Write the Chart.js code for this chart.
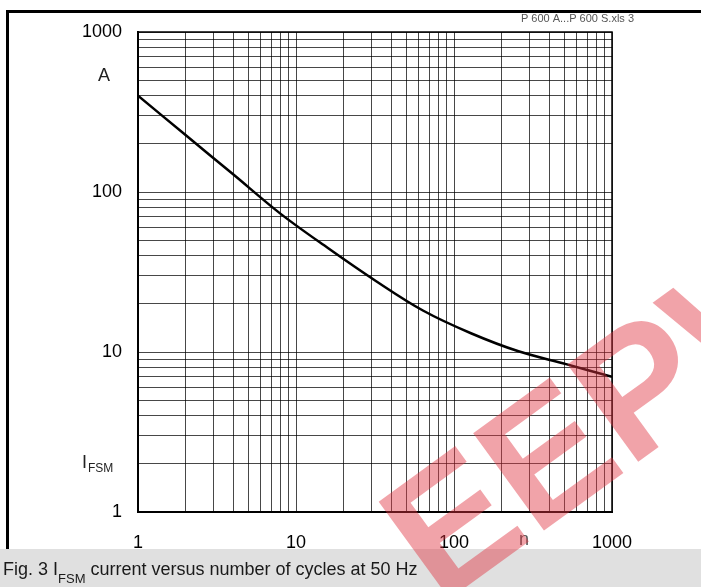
<!DOCTYPE html>
<html>
<head>
<meta charset="utf-8">
<script src="https://cdn.jsdelivr.net/npm/chart.js@4.4.1/dist/chart.umd.min.js"></script>
<style>
  body { margin: 0; background: #fff; }
  #wrap { width: 701px; height: 587px; position: relative; }
</style>
</head>
<body>
<div id="wrap"><canvas id="surgeChart"></canvas></div>
<script>
// Surge current I_FSM vs. number of cycles n (50 Hz)
const cycles = [1, 2, 4, 8, 16, 32, 64, 128, 256, 512, 1000];
const surgeCurrent = [400, 227, 129, 73, 44.5, 27.8, 18.1, 13.1, 10.1, 8.4, 7.0];

// Log grid lines and the decade labels
const xGrid = [1, 2, 3, 4, 5, 6, 7, 8, 9, 10, 20, 30, 40, 50, 60, 70, 80, 90, 100, 200, 300, 400, 500, 600, 700, 800, 900, 1000];
const yGrid = xGrid;
const xLabels = [1, 10, 100, 1000];
const yLabels = [1, 10, 100, 1000];

const FONT = '"Liberation Sans", Arial, sans-serif';

/**
 * Draw background, frame, caption, axis captions and watermark
 */
const pagePlugin = {
    id: 'page',
    beforeDraw(chart) {
        const ctx = chart.ctx;
        ctx.save();
        ctx.fillStyle = '#fff';
        ctx.fillRect(0, 0, chart.width, chart.height);
        ctx.restore();
    },
    afterDatasetsDraw(chart) {
        const ctx = chart.ctx;
        const a = chart.chartArea;
        ctx.save();
        ctx.strokeStyle = '#000';
        ctx.lineWidth = 1.5;
        ctx.beginPath();
        ctx.moveTo(a.left, a.top);
        ctx.lineTo(a.right, a.top);
        ctx.lineTo(a.right, a.bottom);
        ctx.stroke();
        ctx.restore();
    },
    afterDraw(chart) {
        const ctx = chart.ctx;
        ctx.save();

        // outer frame (top and left)
        ctx.fillStyle = '#000';
        ctx.fillRect(6, 10, 695, 3);
        ctx.fillRect(6, 10, 3, 539);

        // caption bar
        ctx.fillStyle = '#e0e0e0';
        ctx.fillRect(0, 549, 701, 38);
        ctx.fillStyle = '#1a1a1a';
        ctx.textBaseline = 'alphabetic';
        ctx.textAlign = 'left';
        ctx.font = '18px ' + FONT;
        let x = 3;
        ctx.fillText('Fig. 3 I', x, 575);
        x += ctx.measureText('Fig. 3 I').width;
        ctx.font = '13px ' + FONT;
        ctx.fillText('FSM', x, 583);
        x += ctx.measureText('FSM').width;
        ctx.font = '18px ' + FONT;
        ctx.fillText(' current versus number of cycles at 50 Hz', x, 575);

        // file reference, top right
        ctx.fillStyle = '#555';
        ctx.font = '11px ' + FONT;
        ctx.textAlign = 'right';
        ctx.fillText('P 600 A...P 600 S.xls 3', 634, 22);

        // unit and quantity labels
        ctx.fillStyle = '#222';
        ctx.font = '18px ' + FONT;
        ctx.textAlign = 'center';
        ctx.textBaseline = 'middle';
        ctx.fillText('A', 104, 76);
        ctx.fillStyle = '#555';
        ctx.fillText('n', 524, 540);

        ctx.fillStyle = '#222';
        ctx.textAlign = 'left';
        ctx.textBaseline = 'alphabetic';
        ctx.fillText('I', 82, 468);
        ctx.font = '12px ' + FONT;
        ctx.fillText('FSM', 88, 472);

        // watermark
        ctx.translate(440, 606);
        ctx.rotate(-36 * Math.PI / 180);
        ctx.fillStyle = 'rgba(225, 50, 65, 0.45)';
        ctx.font = 'bold 175px ' + FONT;
        ctx.textAlign = 'left';
        ctx.textBaseline = 'alphabetic';
        ctx.fillText('EEPW', 0, 0);

        ctx.restore();
    }
};

const ctx = document.getElementById('surgeChart');

new Chart(ctx, {
    type: 'line',
    data: {
        datasets: [{
            label: 'IFSM',
            data: cycles.map((n, i) => ({ x: n, y: surgeCurrent[i] })),
            borderColor: '#000',
            borderWidth: 2.5,
            pointRadius: 0,
            tension: 0.35,
            fill: false
        }]
    },
    options: {
        responsive: true,
        maintainAspectRatio: false,
        animation: false,
        layout: {
            padding: { top: 32, right: 89, left: 0, bottom: 0 }
        },
        plugins: {
            legend: { display: false },
            tooltip: { enabled: false }
        },
        scales: {
            x: {
                type: 'logarithmic',
                min: 1,
                max: 1000,
                afterBuildTicks: (scale) => {
                    scale.ticks = xGrid.map(v => ({ value: v }));
                },
                afterFit: (scale) => {
                    scale.height = 75;
                },
                ticks: {
                    autoSkip: false,
                    maxRotation: 0,
                    padding: 20,
                    color: '#000',
                    font: { size: 18, family: FONT },
                    callback: (value) => xLabels.includes(value) ? String(value) : ''
                },
                grid: {
                    color: 'rgba(0, 0, 0, 0.72)',
                    lineWidth: 1,
                    drawTicks: false
                },
                border: { color: '#000', width: 2 }
            },
            y: {
                type: 'logarithmic',
                min: 1,
                max: 1000,
                afterBuildTicks: (scale) => {
                    scale.ticks = yGrid.map(v => ({ value: v }));
                },
                afterFit: (scale) => {
                    scale.width = 138;
                },
                ticks: {
                    autoSkip: false,
                    padding: 16,
                    color: '#000',
                    font: { size: 18, family: FONT },
                    callback: (value) => yLabels.includes(value) ? String(value) : ''
                },
                grid: {
                    color: 'rgba(0, 0, 0, 0.72)',
                    lineWidth: 1,
                    drawTicks: false
                },
                border: { color: '#000', width: 2 }
            }
        }
    },
    plugins: [pagePlugin]
});
</script>
</body>
</html>
